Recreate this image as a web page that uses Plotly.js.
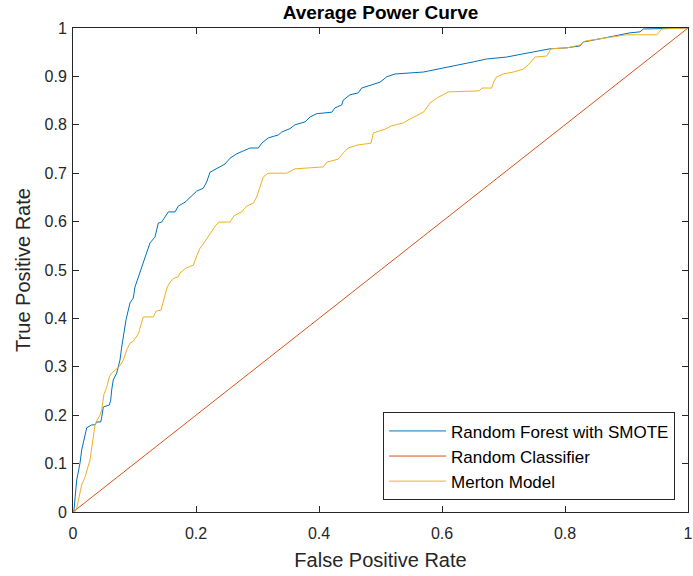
<!DOCTYPE html>
<html>
<head>
<meta charset="utf-8">
<script src="https://cdn.plot.ly/plotly-3.0.1.min.js"></script>
<style>html,body{margin:0;padding:0;background:#fff;}#chart{width:693px;height:576px;}</style>
</head>
<body>
<div id="chart"></div>
<script>
// Random Forest with SMOTE
const rfFPR = [0,0.0016,0.006,0.0114,0.0141,0.0195,0.0223,0.0304,0.0358,0.0385,0.045,0.0467,0.0493,0.059,0.0613,0.0629,0.0655,0.0711,0.0737,0.0764,0.0792,0.0818,0.0862,0.0927,0.098,0.1008,0.1062,0.1117,0.117,0.1252,0.1333,0.1387,0.1442,0.1496,0.155,0.1659,0.1712,0.1821,0.193,0.2011,0.2119,0.2174,0.2228,0.2337,0.2472,0.2553,0.2662,0.2769,0.2878,0.3013,0.3068,0.3176,0.3338,0.3393,0.3528,0.361,0.3772,0.3854,0.3963,0.4207,0.426,0.4369,0.4395,0.4504,0.4639,0.4694,0.4857,0.4992,0.5101,0.5236,0.5696,0.6021,0.6184,0.6509,0.6727,0.7052,0.7296,0.7566,0.7756,0.8028,0.8244,0.8298,0.8569,0.8785,0.9057,0.922,0.9273,0.955,1];
const rfTPR = [0,0.0041,0.066,0.101,0.128,0.163,0.174,0.180,0.180,0.186,0.186,0.196,0.217,0.221,0.231,0.252,0.273,0.287,0.300,0.314,0.341,0.362,0.397,0.432,0.442,0.465,0.486,0.506,0.525,0.556,0.568,0.597,0.599,0.609,0.620,0.620,0.632,0.640,0.653,0.663,0.669,0.682,0.702,0.709,0.719,0.731,0.740,0.746,0.752,0.752,0.762,0.773,0.779,0.785,0.792,0.800,0.806,0.816,0.823,0.826,0.835,0.841,0.851,0.862,0.866,0.876,0.882,0.888,0.899,0.905,0.909,0.917,0.921,0.930,0.936,0.940,0.946,0.952,0.957,0.959,0.963,0.971,0.977,0.983,0.990,0.992,0.998,0.999,1];

// Random Classifier
const rcFPR = [0,1];
const rcTPR = [0,1];

// Merton Model
const mmFPR = [0,0.0033,0.0065,0.0098,0.0141,0.0195,0.0223,0.0276,0.0304,0.033,0.0358,0.0385,0.0439,0.0467,0.0493,0.0504,0.0545,0.059,0.0629,0.0683,0.0764,0.0818,0.0873,0.0927,0.098,0.1062,0.1117,0.1143,0.1306,0.135,0.1431,0.148,0.1528,0.1577,0.1642,0.1712,0.174,0.1837,0.1956,0.2011,0.2065,0.2119,0.22,0.226,0.2325,0.2374,0.2553,0.2618,0.2743,0.2824,0.2932,0.2987,0.3041,0.3094,0.3171,0.3475,0.361,0.407,0.413,0.4314,0.4395,0.4476,0.4613,0.4846,0.4883,0.5073,0.5182,0.5371,0.548,0.5615,0.5696,0.5751,0.5805,0.5914,0.6021,0.6102,0.6602,0.665,0.6808,0.6846,0.6889,0.6997,0.7159,0.7322,0.7403,0.7512,0.7702,0.7772,0.8033,0.8244,0.8325,0.8623,0.8785,0.9003,0.9496,0.9572,1];
const mmTPR = [0,0,0.0103,0.031,0.056,0.072,0.083,0.107,0.132,0.159,0.180,0.188,0.200,0.211,0.231,0.244,0.256,0.279,0.287,0.293,0.302,0.314,0.335,0.349,0.353,0.368,0.395,0.403,0.403,0.415,0.417,0.438,0.463,0.475,0.483,0.486,0.494,0.504,0.510,0.529,0.545,0.554,0.570,0.581,0.593,0.599,0.599,0.612,0.620,0.632,0.638,0.651,0.671,0.692,0.700,0.700,0.709,0.713,0.723,0.729,0.742,0.752,0.758,0.762,0.783,0.791,0.798,0.804,0.812,0.820,0.826,0.835,0.845,0.855,0.862,0.868,0.870,0.876,0.876,0.890,0.899,0.905,0.909,0.915,0.924,0.940,0.942,0.957,0.959,0.965,0.973,0.979,0.983,0.986,0.986,0.998,1];

const seriesNames = ['Random Forest with SMOTE','Random Classifier','Merton Model'];
const xTicks = [0,0.2,0.4,0.6,0.8,1];
const xTickText = ['0','0.2','0.4','0.6','0.8','1'];
const yTicks = [0,0.1,0.2,0.3,0.4,0.5,0.6,0.7,0.8,0.9,1];
const yTickText = ['0','0.1','0.2','0.3','0.4','0.5','0.6','0.7','0.8','0.9','1'];

const FONT = 'Liberation Sans, Arial, Helvetica, sans-serif';
const AX = '#262626';

const traces = [
  {x: rfFPR, y: rfTPR, name: seriesNames[0], mode: 'lines', line: {color: '#0072BD', width: 1}},
  {x: rcFPR, y: rcTPR, name: seriesNames[1], mode: 'lines', line: {color: '#D95319', width: 1}},
  {x: mmFPR, y: mmTPR, name: seriesNames[2], mode: 'lines', line: {color: '#EDB120', width: 1}}
];

const axisCommon = {
  showgrid: false, zeroline: false, showline: true, linecolor: AX, linewidth: 1,
  mirror: 'ticks', ticks: 'inside', ticklen: 6, tickwidth: 1, tickcolor: AX,
  tickfont: {family: FONT, size: 16, color: AX}, fixedrange: true
};

const layout = {
  width: 693, height: 576,
  margin: {l: 73, r: 5, t: 28, b: 64},
  paper_bgcolor: '#fff', plot_bgcolor: '#fff',
  title: {text: '<b>Average Power Curve</b>', font: {family: FONT, size: 19, color: '#000'}, xref: 'paper', x: 0.5, xanchor: 'center', yref: 'container', y: 0.979, yanchor: 'middle'},
  xaxis: Object.assign({}, axisCommon, {range: [0,1], tickvals: xTicks, ticktext: xTickText, ticklabelstandoff: 7,
    title: {text: 'False Positive Rate', font: {family: FONT, size: 20, color: AX}, standoff: 11}}),
  yaxis: Object.assign({}, axisCommon, {range: [0,1], tickvals: yTicks, ticktext: yTickText, ticklabelstandoff: 2,
    title: {text: 'True Positive Rate', font: {family: FONT, size: 20, color: AX}, standoff: 8}}),
  showlegend: true,
  legend: {x: 0.979, y: 0.024, xanchor: 'right', yanchor: 'bottom', bgcolor: '#fff', bordercolor: AX, borderwidth: 1,
    font: {family: FONT, size: 17, color: '#000'}, tracegroupgap: 0, itemwidth: 57}
};

Plotly.newPlot('chart', traces, layout, {displayModeBar: false, staticPlot: true});
</script>
</body>
</html>
